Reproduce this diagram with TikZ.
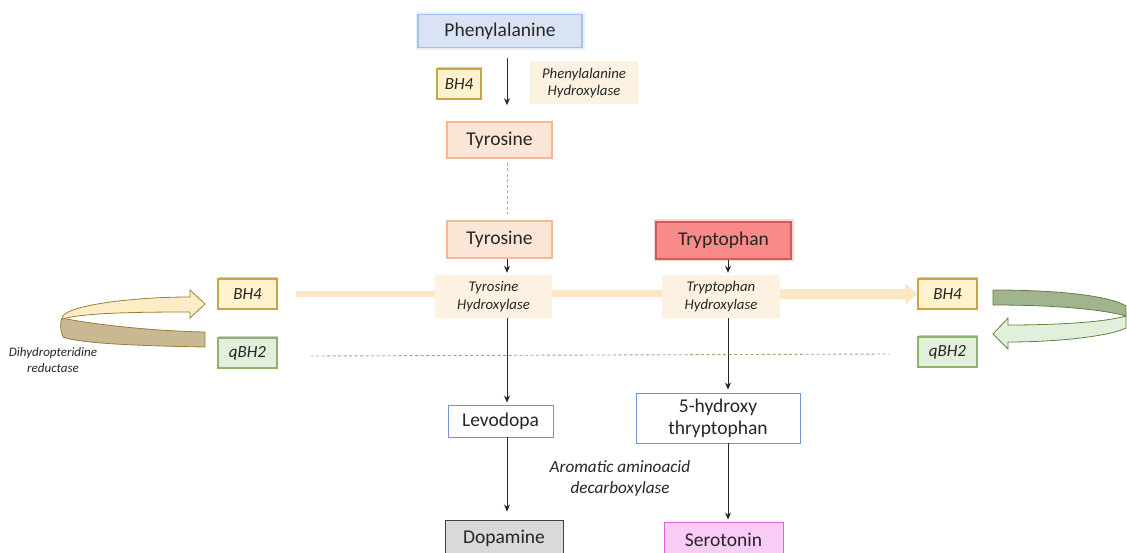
\documentclass[tikz,border=0pt]{standalone}
\usepackage{fontspec}
\setmainfont{Carlito}
\usetikzlibrary{arrows.meta,shadows}
\definecolor{phefill}{HTML}{DAE3F3}
\definecolor{pheline}{HTML}{A3C2EA}
\definecolor{tyrfill}{HTML}{FBE5D6}
\definecolor{tyrline}{HTML}{F5B894}
\definecolor{tyrdash}{HTML}{EE9A66}
\definecolor{trpfill}{HTML}{F98A8A}
\definecolor{trpline}{HTML}{D65A58}
\definecolor{bhfill}{HTML}{FFF2CC}
\definecolor{bhline}{HTML}{C9A445}
\definecolor{qfill}{HTML}{E2EFDA}
\definecolor{qline}{HTML}{8DB36E}
\definecolor{enzfill}{HTML}{FDF2E2}
\definecolor{levoline}{HTML}{7193D2}
\definecolor{dopfill}{HTML}{D9D9D9}
\definecolor{dopline}{HTML}{404040}
\definecolor{serfill}{HTML}{F9CCF7}
\definecolor{serline}{HTML}{DE62DE}
\definecolor{bhflow}{HTML}{FDE7C2}
\definecolor{dashgreen}{HTML}{8FAE78}
\definecolor{ringlight}{HTML}{FDEDC6}
\definecolor{ringdark}{HTML}{C8B992}
\definecolor{ringedge}{HTML}{9A7E34}
\definecolor{gdark}{HTML}{A0B48E}
\definecolor{gedge}{HTML}{62803F}
\tikzset{
  mol/.style={rectangle, inner sep=0pt, align=center, text=black!85, font=\fontsize{19.5}{22}\selectfont},
  glowbox/.style={preaction={draw=#1, line width=5, opacity=0.25}},
  cof/.style={rectangle, inner sep=0pt, minimum width=59, minimum height=30, line width=1.1,
    font=\itshape\fontsize{17}{19}\selectfont, text=black!85},
  shadowed/.style={drop shadow={shadow xshift=1.2, shadow yshift=-1.8, opacity=0.35, fill=black!60}},
  enz/.style={rectangle, inner sep=0pt, fill=enzfill, align=center, text=black!85,
    font=\itshape\fontsize{14.8}{17.5}\selectfont},
  arr/.style={draw=black!85, line width=1, -{Stealth[length=7,width=6]}},
  lbl/.style={align=center, text=black!85, font=\itshape},
}
\begin{document}
\begin{tikzpicture}[x=1pt,y=-1pt]
\useasboundingbox (0,0) rectangle (1127,553);
\coordinate (colA) at (507,0);
\coordinate (colB) at (728,0);

% curved recycling arrows (drawn as shapes)
\filldraw[fill=ringdark, draw=ringedge, line width=0.8]
  (62,318) .. controls (90,324) and (150,331) .. (205,332) -- (205,347)
  .. controls (150,346) and (80,344) .. (63,337) .. controls (60,330) and (60,322) .. (62,318) -- cycle;
\filldraw[fill=ringlight, draw=ringedge, line width=0.8]
  (62,319) .. controls (60,306) and (130,297) .. (190,297) -- (190,290) -- (205,304)
  -- (190,318) -- (190,312) .. controls (130,312) and (85,313) .. (62,319) -- cycle;

\filldraw[fill=gdark, draw=gedge, line width=0.8]
  (993,290) .. controls (1060,290) and (1110,296) .. (1126,306) -- (1126,316)
  .. controls (1105,310) and (1060,305) .. (993,305) -- cycle;
\filldraw[fill=qfill, draw=gedge, line width=0.8]
  (1126,316) .. controls (1105,322) and (1060,325) .. (1008,325) -- (1008,318) -- (993,334)
  -- (1008,349) -- (1008,342) .. controls (1060,342) and (1110,336) .. (1126,328) -- cycle;

% nodes
\node[mol, fill=phefill, draw=pheline, line width=1.6, glowbox=pheline, minimum width=164, minimum height=33] (phe) at (500,31) {Phenylalanine};
\node[cof, fill=bhfill, draw=bhline, shadowed, minimum width=44] (bh4t) at (459,84) {BH4};
\node[enz, minimum width=108, minimum height=43] (pheh) at (584,83) {Phenylalanine\\Hydroxylase};
\node[mol, fill=tyrfill, draw=tyrline, line width=1.6, minimum width=105, minimum height=36] (tyr1) at (499.5,140) {Tyrosine};
\node[mol, fill=tyrfill, draw=tyrline, line width=1.6, minimum width=105, minimum height=37] (tyr2) at (499.5,239.5) {Tyrosine};
\node[mol, fill=trpfill, draw=trpline, line width=1.6, glowbox=trpline, minimum width=135, minimum height=37] (trp) at (723.5,240.5) {Tryptophan};
\node[enz, minimum width=117, minimum height=43] (tyrh) at (493.5,296.5) {Tyrosine\\Hydroxylase};
\node[enz, minimum width=118, minimum height=43] (trph) at (721,296.5) {Tryptophan\\Hydroxylase};
\node[cof, fill=bhfill, draw=bhline, shadowed] (bh4l) at (247.5,294) {BH4};
\node[cof, fill=qfill, draw=qline, shadowed] (qbh2l) at (247.5,353) {qBH2};
\node[cof, fill=bhfill, draw=bhline, shadowed] (bh4r) at (947.5,294) {BH4};
\node[cof, fill=qfill, draw=qline, shadowed] (qbh2r) at (947.5,352) {qBH2};
\node[mol, fill=white, draw=levoline, line width=0.9, minimum width=105, minimum height=32] (levo) at (500.5,421) {Levodopa};
\node[mol, fill=white, draw=levoline, line width=0.9, minimum width=164, minimum height=50, font=\fontsize{19.5}{22}\selectfont] (htp) at (718,418) {5-hydroxy\\thryptophan};
\node[mol, fill=dopfill, draw=dopline, line width=0.9, minimum width=118, minimum height=36] (dop) at (504,538) {Dopamine};
\node[mol, fill=serfill, draw=serline, line width=0.9, minimum width=119, minimum height=36] (ser) at (723.5,540) {Serotonin};
\node[lbl, font=\itshape\fontsize{13}{16}\selectfont] (dhpr) at (53,360) {Dihydropteridine\\reductase};
\node[lbl, font=\itshape\fontsize{17.2}{21}\selectfont] (aadc) at (620,478) {Aromatic aminoacid\\decarboxylase};

% connectors
\draw[arr, shorten <=10, shorten >=16] (colA |- phe.south) -- (colA |- tyr1.north);
\draw[draw=tyrdash, line width=1, dash pattern=on 3pt off 2.5pt, shorten <=4, shorten >=6] (colA |- tyr1.south) -- (colA |- tyr2.north);
\draw[arr, shorten >=2] (colA |- tyr2.south) -- (colA |- tyrh.north);
\draw[arr, shorten >=2] (colB |- trp.south) -- (colB |- trph.north);
\draw[arr, shorten >=2] (colA |- tyrh.south) -- (colA |- levo.north);
\draw[arr, shorten >=8] (colA |- levo.south) -- (colA |- dop.north);
\draw[arr, shorten >=3] (colB |- trph.south) -- (colB |- htp.north);
\draw[arr, shorten >=2] (colB |- htp.south) -- (colB |- ser.north);

\draw[bhflow, line width=6] ([xshift=18]bh4l.east) -- (tyrh.west |- bh4l.east);
\draw[bhflow, line width=7] (tyrh.east |- bh4l.east) -- (trph.west |- bh4l.east);
\draw[bhflow, line width=10, -{Triangle[length=12,width=20]}] (trph.east |- bh4r.west) -- (bh4r.west);

\draw[dashgreen, line width=0.9, dash pattern=on 3pt off 2.5pt] ([xshift=33,yshift=-3]qbh2l.east) -- ([xshift=-28,yshift=-2]qbh2r.west);
\end{tikzpicture}
\end{document}
